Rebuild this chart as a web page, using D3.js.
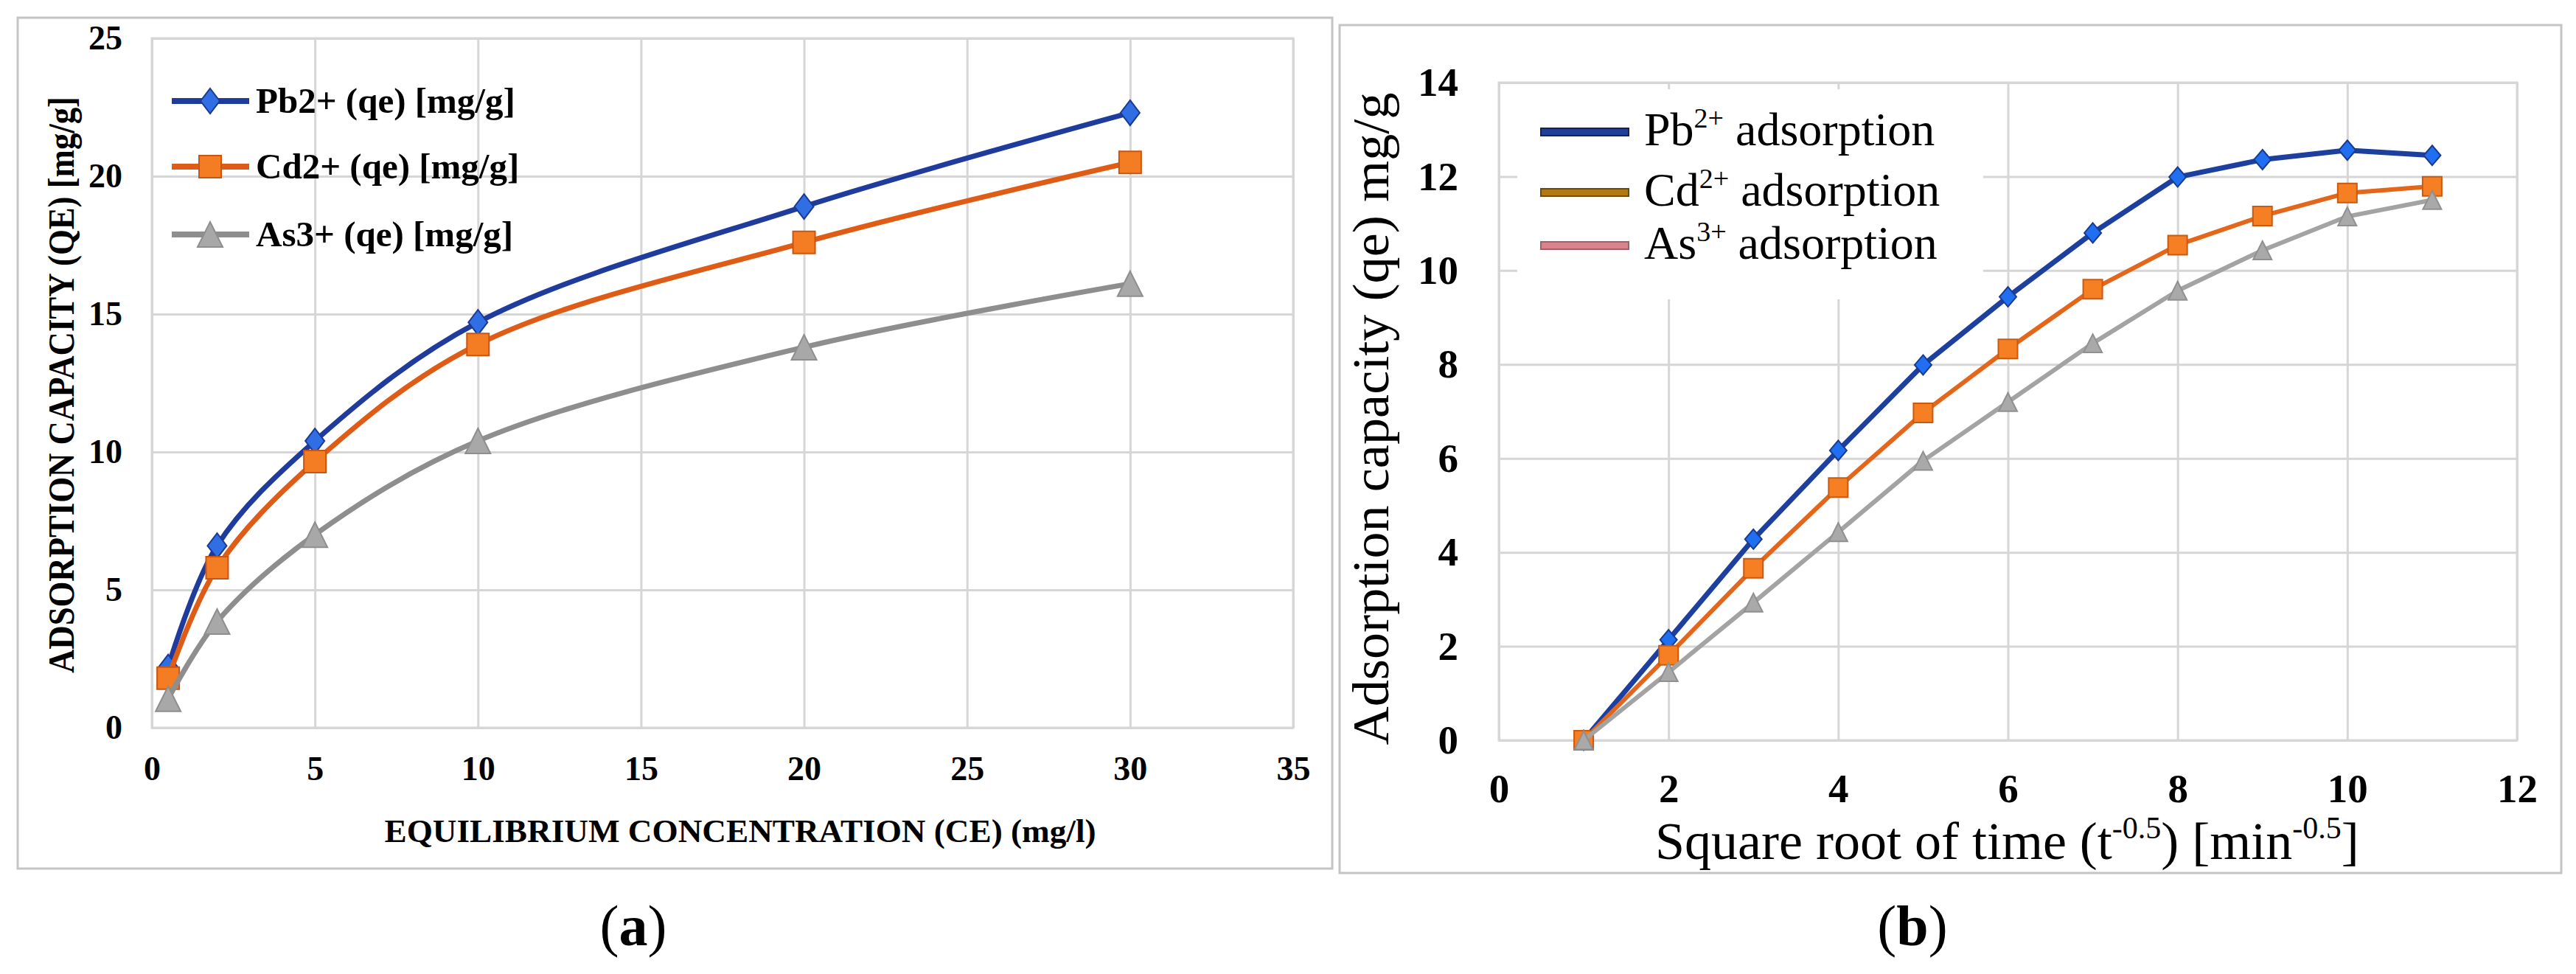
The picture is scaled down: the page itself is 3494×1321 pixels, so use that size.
<!DOCTYPE html>
<html>
<head>
<meta charset="utf-8">
<script src="https://cdn.jsdelivr.net/npm/d3@7"></script>
<style>
  body { margin: 0; background: #fff; }
  text { font-family: "Liberation Serif", "Times New Roman", serif; white-space: pre; }
</style>
</head>
<body>
<div id="fig"></div>
<script>
////////////////////////////////////////////////////////////////////////
// Data

// (a) isotherm: equilibrium concentration vs adsorption capacity
let isoCe = [0.5, 2, 5, 10, 20, 30];
let isoPb = [2.2, 6.6, 10.4, 14.7, 18.9, 22.3];
let isoCd = [1.8, 5.8, 9.65, 13.9, 17.6, 20.5];
let isoAs = [1.05, 3.85, 7.0, 10.4, 13.8, 16.1];
let isoLabels = ["Pb2+ (qe) [mg/g]", "Cd2+ (qe) [mg/g]", "As3+ (qe) [mg/g]"];
let isoXTicks = [0, 5, 10, 15, 20, 25, 30, 35];
let isoYTicks = [0, 5, 10, 15, 20, 25];

// (b) kinetics: square root of time vs adsorption capacity
let kinT = [1, 2, 3, 4, 5, 6, 7, 8, 9, 10, 11];
let kinPb = [0, 2.14, 4.28, 6.17, 7.99, 9.44, 10.8, 11.99, 12.36, 12.56, 12.45];
let kinCd = [0, 1.81, 3.66, 5.38, 6.97, 8.33, 9.6, 10.54, 11.16, 11.65, 11.79];
let kinAs = [0, 1.45, 2.93, 4.43, 5.95, 7.2, 8.45, 9.57, 10.43, 11.15, 11.5];
let kinIons = ["Pb", "Cd", "As"];
let kinCharges = ["2+", "2+", "3+"];
let kinXTicks = [0, 2, 4, 6, 8, 10, 12];
let kinYTicks = [0, 2, 4, 6, 8, 10, 12, 14];

////////////////////////////////////////////////////////////////////////
// Global layout

let width = 3494;
let height = 1321;
let serif = '"Liberation Serif", "Times New Roman", serif';
let gridColor = "#d6d6d6";
let frameColor = "#c4c4c4";

let svg = d3.select("#fig")
  .append("svg")
  .attr("width", width)
  .attr("height", height)
  .attr("font-family", serif);

// marker shapes (Excel markers are not the d3 proportions)
function diamondShape(w, h) {
  return { draw(ctx) {
    ctx.moveTo(0, -h / 2); ctx.lineTo(w / 2, 0);
    ctx.lineTo(0, h / 2); ctx.lineTo(-w / 2, 0); ctx.closePath();
  } };
}
function squareShape(s) {
  return { draw(ctx) { ctx.rect(-s / 2, -s / 2, s, s); } };
}
function triangleShape(w, h) {
  return { draw(ctx) {
    ctx.moveTo(0, -h / 2); ctx.lineTo(w / 2, h / 2);
    ctx.lineTo(-w / 2, h / 2); ctx.closePath();
  } };
}

// text with superscripts: one text element per piece, laid out left to right
// parts = [[string, isSuperscript], ...]
function richText(x, y, parts, size, supSize, supRise) {
  let cx = x;
  parts.forEach(p => {
    let t = svg.append("text")
      .attr("x", cx)
      .attr("y", p[1] ? y - supRise : y)
      .style("font-size", (p[1] ? supSize : size) + "px")
      .text(p[0]);
    cx += t.node().getComputedTextLength();
  });
}

// grid lines + tick labels + plot frame
function drawAxes(xScale, yScale, xTicks, yTicks, fontSize, padX, padY) {
  let x0 = xScale.range()[0], x1 = xScale.range()[1];
  let y0 = yScale.range()[0], y1 = yScale.range()[1];

  let xAxis = d3.axisBottom(xScale)
    .tickValues(xTicks)
    .tickSize(-(y0 - y1))
    .tickSizeOuter(0)
    .tickPadding(padX);
  let yAxis = d3.axisLeft(yScale)
    .tickValues(yTicks)
    .tickSize(-(x1 - x0))
    .tickSizeOuter(0)
    .tickPadding(padY);

  let gx = svg.append("g").attr("transform", "translate(0," + y0 + ")").call(xAxis);
  let gy = svg.append("g").attr("transform", "translate(" + x0 + ",0)").call(yAxis);

  [gx, gy].forEach(g => {
    g.attr("font-family", serif)
      .attr("font-size", fontSize)
      .attr("font-weight", "bold");
    g.select(".domain").remove();
    g.selectAll("line").attr("stroke", gridColor).attr("stroke-width", 3);
    g.selectAll("text")
      .attr("fill", "#000")
      .attr("font-family", serif)
      .attr("font-weight", "bold")
      .attr("font-size", fontSize);
  });

  svg.append("rect")
    .attr("x", x0).attr("y", y1)
    .attr("width", x1 - x0).attr("height", y0 - y1)
    .attr("fill", "none")
    .attr("stroke", gridColor)
    .attr("stroke-width", 3);
}

function drawSeries(xs, ys, xScale, yScale, curve, line, mark) {
  let pts = xs.map((x, i) => [x, ys[i]]);
  let lineCreator = d3.line()
    .x(d => xScale(d[0]))
    .y(d => yScale(d[1]))
    .curve(curve);

  svg.append("path")
    .datum(pts)
    .attr("fill", "none")
    .attr("stroke", line.color)
    .attr("stroke-width", line.width)
    .attr("stroke-linejoin", "round")
    .attr("d", lineCreator);

  svg.append("g")
    .selectAll("path")
    .data(pts)
    .enter()
    .append("path")
    .attr("transform", d => "translate(" + xScale(d[0]) + "," + yScale(d[1]) + ")")
    .attr("d", d3.symbol().type(mark.shape))
    .attr("fill", mark.fill)
    .attr("stroke", mark.stroke)
    .attr("stroke-width", 2);
}

////////////////////////////////////////////////////////////////////////
// Panel (a)

function drawIsotherm() {
  svg.append("rect")
    .attr("x", 24).attr("y", 24).attr("width", 1783).attr("height", 1154)
    .attr("fill", "none").attr("stroke", frameColor).attr("stroke-width", 3);

  let xScale = d3.scaleLinear().domain([0, 35]).range([206, 1754]);
  let yScale = d3.scaleLinear().domain([0, 25]).range([987, 52]);

  drawAxes(xScale, yScale, isoXTicks, isoYTicks, 46, 38, 40);

  let styles = [
    { line: { color: "#1f3c9c", width: 7 }, mark: { shape: diamondShape(26, 34), fill: "#2f6fe3", stroke: "#1c3a94" } },
    { line: { color: "#df5c17", width: 7 }, mark: { shape: squareShape(30), fill: "#f47c22", stroke: "#c95512" } },
    { line: { color: "#8e8e8e", width: 7 }, mark: { shape: triangleShape(34, 34), fill: "#a8a8a8", stroke: "#8e8e8e" } }
  ];
  let series = [isoPb, isoCd, isoAs];
  let curve = d3.curveCatmullRom.alpha(0.5);
  series.forEach((ys, i) => drawSeries(isoCe, ys, xScale, yScale, curve, styles[i].line, styles[i].mark));

  // legend
  let legY = [137, 226, 318];
  isoLabels.forEach((label, i) => {
    svg.append("line")
      .attr("x1", 233).attr("x2", 338).attr("y1", legY[i]).attr("y2", legY[i])
      .attr("stroke", styles[i].line.color).attr("stroke-width", 8);
    svg.append("path")
      .attr("transform", "translate(285," + legY[i] + ")")
      .attr("d", d3.symbol().type(styles[i].mark.shape))
      .attr("fill", styles[i].mark.fill)
      .attr("stroke", styles[i].mark.stroke)
      .attr("stroke-width", 2);
    svg.append("text")
      .attr("x", 347).attr("y", legY[i] + 16)
      .style("font-size", "49px").style("font-weight", "bold")
      .text(label);
  });

  // axis titles
  svg.append("text")
    .attr("x", 1004).attr("y", 1142)
    .attr("text-anchor", "middle")
    .attr("textLength", 965).attr("lengthAdjust", "spacingAndGlyphs")
    .style("font-size", "45px").style("font-weight", "bold")
    .text("EQUILIBRIUM CONCENTRATION (CE) (mg/l)");

  svg.append("text")
    .attr("transform", "translate(100,522) rotate(-90)")
    .attr("text-anchor", "middle")
    .attr("textLength", 782).attr("lengthAdjust", "spacingAndGlyphs")
    .style("font-size", "50px").style("font-weight", "bold")
    .text("ADSORPTION CAPACITY (QE) [mg/g]");

  let cap = svg.append("text")
    .attr("x", 859).attr("y", 1282)
    .attr("text-anchor", "middle")
    .style("font-size", "78px");
  cap.append("tspan").text("(");
  cap.append("tspan").style("font-weight", "bold").text("a");
  cap.append("tspan").text(")");
}

////////////////////////////////////////////////////////////////////////
// Panel (b)

function drawKinetics() {
  svg.append("rect")
    .attr("x", 1817).attr("y", 34).attr("width", 1657).attr("height", 1150)
    .attr("fill", "none").attr("stroke", frameColor).attr("stroke-width", 3);

  let xScale = d3.scaleLinear().domain([0, 12]).range([2033, 3414]);
  let yScale = d3.scaleLinear().domain([0, 14]).range([1004, 112]);

  drawAxes(xScale, yScale, kinXTicks, kinYTicks, 55, 45, 55);

  // legend box hides the grid behind it
  svg.append("rect")
    .attr("x", 2058).attr("y", 121).attr("width", 632).attr("height", 285)
    .attr("fill", "#fff");

  let styles = [
    { line: { color: "#1d3f9e", width: 7 }, mark: { shape: diamondShape(23, 27), fill: "#1f6ff0", stroke: "#1a3a90" } },
    { line: { color: "#e4661a", width: 6 }, mark: { shape: squareShape(26), fill: "#f57f22", stroke: "#c85a14" } },
    { line: { color: "#a3a3a3", width: 6 }, mark: { shape: triangleShape(25, 25), fill: "#a9a9a9", stroke: "#909090" } }
  ];
  let series = [kinPb, kinCd, kinAs];
  series.forEach((ys, i) => drawSeries(kinT, ys, xScale, yScale, d3.curveLinear, styles[i].line, styles[i].mark));

  // legend (colours differ from the plotted series in the original)
  let legY = [179, 261, 333];
  let legFill = ["#1f3f99", "#b3780f", "#d9848c"];
  let legStroke = ["#11235e", "#6e4a08", "#a85e66"];
  kinIons.forEach((ion, i) => {
    svg.append("rect")
      .attr("x", 2090).attr("y", legY[i] - 5).attr("width", 119).attr("height", 10)
      .attr("fill", legFill[i]).attr("stroke", legStroke[i]).attr("stroke-width", 2);
    richText(2230, legY[i] + 18, [[ion, false], [kinCharges[i], true], [" adsorption", false]], 64, 38, 24);
  });

  // axis titles
  richText(2245, 1165, [
    ["Square root of time (t", false], ["-0.5", true],
    [") [min", false], ["-0.5", true], ["]", false]
  ], 72, 42, 28);

  svg.append("text")
    .attr("transform", "translate(1883,568) rotate(-90)")
    .attr("text-anchor", "middle")
    .attr("textLength", 885).attr("lengthAdjust", "spacingAndGlyphs")
    .style("font-size", "70px")
    .text("Adsorption capacity (qe) mg/g");

  let cap = svg.append("text")
    .attr("x", 2594).attr("y", 1282)
    .attr("text-anchor", "middle")
    .style("font-size", "78px");
  cap.append("tspan").text("(");
  cap.append("tspan").style("font-weight", "bold").text("b");
  cap.append("tspan").text(")");
}

drawIsotherm();
drawKinetics();
</script>
</body>
</html>
